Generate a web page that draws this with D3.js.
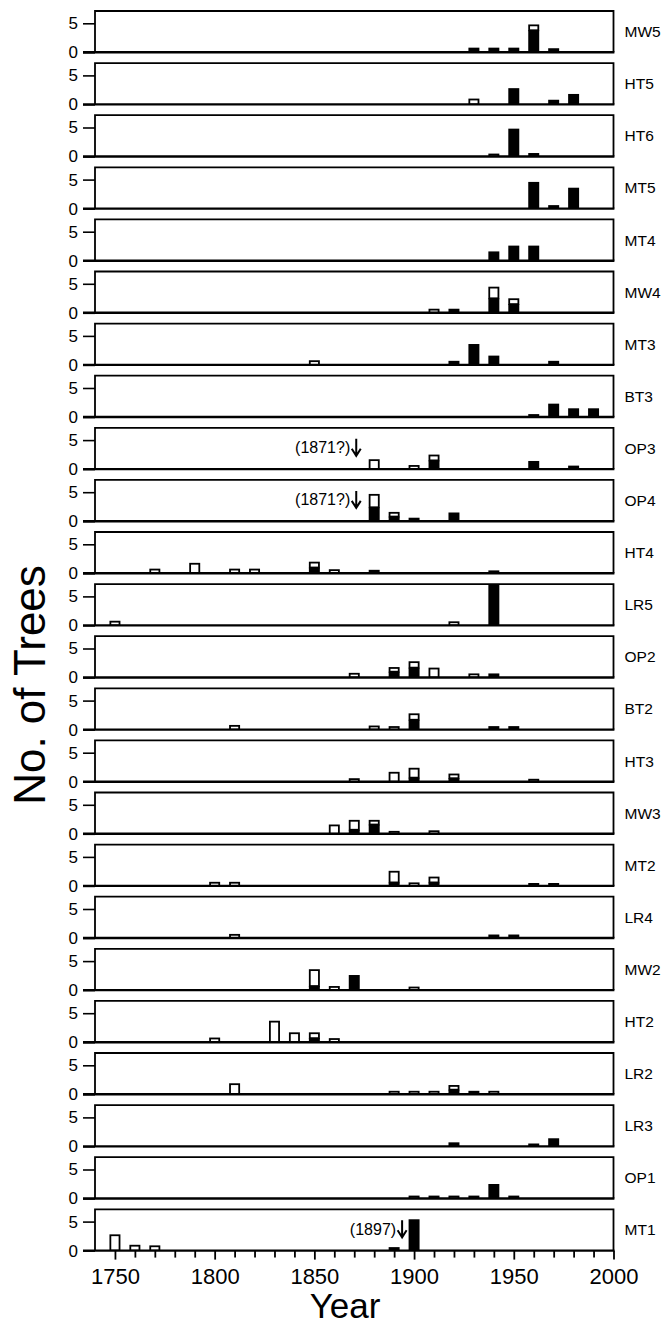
<!DOCTYPE html>
<html><head><meta charset="utf-8">
<script src="https://cdn.jsdelivr.net/npm/d3@7"></script>
<style>html,body{margin:0;padding:0;background:#fff;}svg{display:block;}</style>
</head><body>
<script>
// Each site: rows of [decade, black (dead) count, open (live) count]
const MW5 = [[1930,0.8,0],[1940,0.8,0],[1950,0.8,0],[1960,3.8,1],[1970,0.7,0]];
const HT5 = [[1930,0,1],[1950,2.8,0],[1970,0.8,0],[1980,1.8,0]];
const HT6 = [[1940,0,0.5],[1950,4.8,0],[1960,0.6,0]];
const MT5 = [[1960,4.6,0],[1970,0.6,0],[1980,3.6,0]];
const MT4 = [[1940,1.6,0],[1950,2.6,0],[1960,2.6,0]];
const MW4 = [[1910,0,0.7],[1920,0.7,0],[1940,2.5,2],[1950,1.5,1]];
const MT3 = [[1850,0,0.8],[1920,0.7,0],[1930,3.6,0],[1940,1.6,0],[1970,0.7,0]];
const BT3 = [[1960,0.5,0],[1970,2.3,0],[1980,1.5,0],[1990,1.5,0]];
const OP3 = [[1880,0,1.7],[1900,0,0.7],[1910,1.5,1],[1960,1.4,0],[1980,0.6,0]];
const OP4 = [[1880,2.4,2.3],[1890,0.8,0.8],[1900,0.6,0],[1920,1.5,0]];
const HT4 = [[1770,0,0.8],[1790,0,1.8],[1810,0,0.8],[1820,0,0.8],[1850,1,1],[1860,0,0.7],[1880,0.6,0],[1940,0.5,0]];
const LR5 = [[1750,0,0.8],[1920,0,0.7],[1940,7.2,0]];
const OP2 = [[1870,0,0.8],[1890,1,0.8],[1900,1.7,1.1],[1910,0,1.7],[1930,0,0.7],[1940,0.7,0]];
const BT2 = [[1810,0,0.8],[1880,0,0.7],[1890,0,0.6],[1900,1.7,1.1],[1940,0.6,0],[1950,0.6,0]];
const HT3 = [[1870,0,0.6],[1890,0,1.7],[1900,0.7,1.7],[1920,0.6,0.8],[1960,0,0.5]];
const MW3 = [[1860,0,1.6],[1870,0.7,1.7],[1880,1.6,0.8],[1890,0,0.5],[1910,0,0.6]];
const MT2 = [[1800,0,0.7],[1810,0,0.7],[1890,0.6,2],[1900,0,0.6],[1910,0.6,1],[1960,0.5,0],[1970,0.5,0]];
const LR4 = [[1810,0,0.7],[1940,0.6,0],[1950,0.6,0]];
const MW2 = [[1850,0.7,2.9],[1860,0,0.7],[1870,2.6,0],[1900,0,0.6]];
const HT2 = [[1800,0,0.8],[1830,0,3.7],[1840,0,1.7],[1850,0.7,1],[1860,0,0.7]];
const LR2 = [[1810,0,1.9],[1890,0,0.6],[1900,0,0.6],[1910,0,0.6],[1920,0.8,0.8],[1930,0.6,0],[1940,0,0.6]];
const LR3 = [[1920,0.7,0],[1960,0.5,0],[1970,1.4,0]];
const OP1 = [[1900,0,0.5],[1910,0.5,0],[1920,0,0.5],[1930,0.5,0],[1940,2.5,0],[1950,0.5,0]];
const MT1 = [[1750,0,2.8],[1760,0,1],[1770,0,0.9],[1890,0.6,0],[1900,5.4,0]];

const siteNames = ["MW5","HT5","HT6","MT5","MT4","MW4","MT3","BT3","OP3","OP4","HT4","LR5","OP2","BT2","HT3","MW3","MT2","LR4","MW2","HT2","LR2","LR3","OP1","MT1"];
const siteData  = [MW5,HT5,HT6,MT5,MT4,MW4,MT3,BT3,OP3,OP4,HT4,LR5,OP2,BT2,HT3,MW3,MT2,LR4,MW2,HT2,LR2,LR3,OP1,MT1];
const yTicks = [0, 5];
const xTicks = [1750,1760,1770,1780,1790,1800,1810,1820,1830,1840,1850,1860,1870,1880,1890,1900,1910,1920,1930,1940,1950,1960,1970,1980,1990,2000];
// annotations: [site, label, arrow year]
const notes = [["OP3","(1871?)",1871],["OP4","(1871?)",1871],["MT1","(1897)",1894]];

const W = 665, H = 1326;
const FONT = "'Liberation Sans', Arial, Helvetica, sans-serif";
const svg = d3.select("body").append("svg").attr("width", W).attr("height", H)
  .style("font-family", FONT);

const x = d3.scaleLinear().domain([1740, 2000]).range([95, 613.5]);
const panelTop0 = 11, pitch = 52.1, panelH = 41.3;
const yMax = 7.12;
const barW = 5.5; // years

siteNames.forEach((name, i) => {
  const top = panelTop0 + pitch * i;
  const base = top + panelH;
  const y = d3.scaleLinear().domain([0, yMax]).range([base, top]);
  const g = svg.append("g");
  const rows = siteData[i];
  const clipId = "clip" + i;
  svg.append("clipPath").attr("id", clipId).append("rect")
    .attr("x", x(1740)).attr("y", top).attr("width", x(2000) - x(1740)).attr("height", panelH);
  const bars = g.append("g").attr("clip-path", `url(#${clipId})`);
  // black (lower) parts
  bars.selectAll("rect.blk").data(rows.filter(r => r[1] > 0)).join("rect")
    .attr("class","blk")
    .attr("x", r => x(r[0] - barW/2)).attr("width", r => x(r[0] + barW/2) - x(r[0] - barW/2))
    .attr("y", r => y(r[1])).attr("height", r => y(0) - y(r[1]))
    .attr("fill", "#000");
  // open (upper) parts
  bars.selectAll("rect.opn").data(rows.filter(r => r[2] > 0)).join("rect")
    .attr("class","opn")
    .attr("x", r => x(r[0] - barW/2) + 0.9).attr("width", r => x(r[0] + barW/2) - x(r[0] - barW/2) - 1.8)
    .attr("y", r => y(r[1] + r[2]) + 0.9).attr("height", r => y(r[1]) - y(r[1] + r[2]) - 0.9)
    .attr("fill", "#fff").attr("stroke", "#000").attr("stroke-width", 1.8);

  // panel frame
  g.append("path")
    .attr("d", `M${x(1740)},${base} L${x(1740)},${top} L${x(2000)},${top} L${x(2000)},${base}`)
    .attr("fill","none").attr("stroke","#000").attr("stroke-width",1.8);
  g.append("line").attr("x1", x(1740) - 12).attr("x2", x(2000) + 0.9)
    .attr("y1", base).attr("y2", base).attr("stroke","#000").attr("stroke-width",2.4);

  // y axis ticks + labels
  const ya = d3.axisLeft(y).tickValues(yTicks).tickSize(12).tickPadding(5).tickFormat(d3.format("d"));
  const ag = g.append("g").attr("transform", `translate(${x(1740)},0)`).call(ya);
  ag.select(".domain").remove();
  ag.selectAll(".tick line").attr("stroke-width", 1.6);
  ag.selectAll(".tick text").attr("font-size", 17).attr("font-family", FONT).attr("fill","#000");

  // site label
  g.append("text").attr("x", x(2000) + 11).attr("y", (top + base) / 2 + 5.5)
    .attr("font-size", 15.5).attr("fill","#000").text(name);

  // annotation
  notes.filter(n => n[0] === name).forEach(n => {
    const ax = x(n[2]);
    const cy = top + 20;
    g.append("text").attr("x", ax - 6).attr("y", cy + 5.5).attr("text-anchor","end")
      .attr("font-size", 16).attr("fill","#000").text(n[1]);
    g.append("path")
      .attr("d", `M${ax},${cy-9} L${ax},${cy+8} M${ax-4.5},${cy+1} L${ax},${cy+8} L${ax+4.5},${cy+1}`)
      .attr("fill","none").attr("stroke","#000").attr("stroke-width",2);
  });

  // bottom x axis on last panel
  if (i === siteNames.length - 1) {
    const xa = d3.axisBottom(x).tickValues(xTicks).tickSize(7).tickPadding(11)
      .tickFormat(d => d % 50 === 0 ? d : "");
    const xg = g.append("g").attr("transform", `translate(0,${base})`).call(xa);
    xg.select(".domain").remove();
    xg.selectAll(".tick line").attr("stroke-width", 1.8)
      .attr("y2", d => d % 50 === 0 ? 9 : 7);
    xg.selectAll(".tick text").attr("font-size", 22).attr("font-family", FONT).attr("fill","#000");
  }
});

// axis titles
svg.append("text").attr("transform", "translate(45,685) rotate(-90)")
  .attr("text-anchor","middle").attr("font-size", 44).attr("fill","#000").text("No. of Trees");
svg.append("text").attr("x", 345).attr("y", 1318)
  .attr("text-anchor","middle").attr("font-size", 35).attr("fill","#000").text("Year");
</script>
</body></html>
